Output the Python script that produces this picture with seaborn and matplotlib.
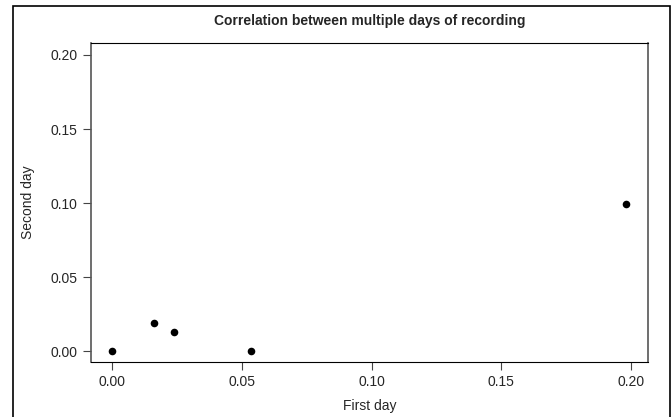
import matplotlib
matplotlib.use('Agg')
import matplotlib.pyplot as plt
import seaborn as sns
import pandas as pd
from matplotlib.patches import Rectangle

# values
first_day = [0.0, 0.016, 0.024, 0.0535, 0.198]
second_day = [0.0, 0.019, 0.013, 0.0, 0.099]
ticks = [0.00, 0.05, 0.10, 0.15, 0.20]
tick_labels = ['0.00', '0.05', '0.10', '0.15', '0.20']

df = pd.DataFrame({'First day': first_day, 'Second day': second_day})

sns.set_style('white')
plt.rcParams['font.family'] = ['Liberation Sans', 'DejaVu Sans']

fig = plt.figure(figsize=(6.72, 4.17), dpi=100)
ax = fig.add_axes([91 / 672, 1 - 362 / 417, (648 - 91) / 672, (362 - 43) / 417])

sns.scatterplot(data=df, x='First day', y='Second day', ax=ax,
                color='black', s=30, edgecolor='black', linewidth=0)

ax.set_xlim(-0.0081, 0.2065)
ax.set_ylim(-0.0074, 0.2081)
ax.set_xticks(ticks)
ax.set_xticklabels(tick_labels)
ax.set_yticks(ticks)
ax.set_yticklabels(tick_labels)
ax.tick_params(axis='both', direction='out', length=5.5, width=0.8, color='#444444',
               labelsize=10, pad=4, left=True, bottom=True)
for s in ax.spines.values():
    s.set_color('black')
    s.set_linewidth(0.8)
ax.spines['left'].set_color('#555555')
ax.spines['right'].set_color('#555555')
ax.spines['left'].set_linewidth(1.2)
ax.spines['right'].set_linewidth(1.2)

ax.set_xlabel('First day', fontsize=10, labelpad=7)
ax.set_ylabel('Second day', fontsize=10, labelpad=11)
ax.set_title('Correlation between multiple days of recording', fontsize=10,
             fontweight='bold', pad=13)

# outer frame
fig.patches.append(Rectangle((13 / 672, -0.02), (670 - 13) / 672, 1.02 - 6 / 417,
                             transform=fig.transFigure, fill=False,
                             edgecolor='black', linewidth=1.2))

fig.savefig('out.png', dpi=100)
